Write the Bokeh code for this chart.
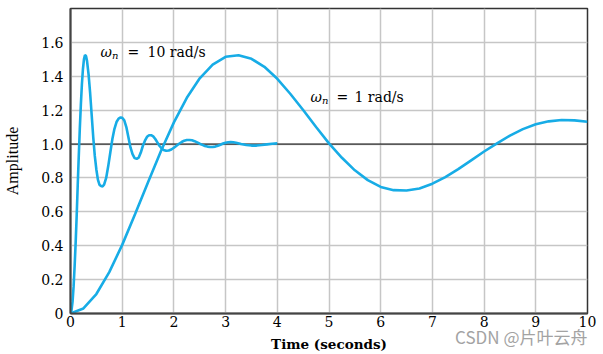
from bokeh.plotting import figure
from bokeh.models import Range1d, FixedTicker, Span, Label
from bokeh.core.properties import value
from bokeh.embed import file_html
from bokeh.resources import INLINE

# ---- data ----
# step response, omega_n = 1 rad/s
t_slow = [0, 0.25, 0.5, 0.75, 1, 1.25, 1.5, 1.75, 2, 2.25, 2.5, 2.75, 3, 3.25,
          3.5, 3.75, 4, 4.25, 4.5, 4.75, 5, 5.25, 5.5, 5.75, 6, 6.25, 6.5, 6.75,
          7, 7.25, 7.5, 7.75, 8, 8.25, 8.5, 8.75, 9, 9.25, 9.5, 9.75, 10]
y_slow = [0, 0.03, 0.115, 0.244, 0.405, 0.587, 0.775, 0.959, 1.128, 1.273, 1.388,
          1.469, 1.515, 1.524, 1.503, 1.456, 1.385, 1.297, 1.201, 1.101, 1.004,
          0.919, 0.845, 0.787, 0.747, 0.728, 0.726, 0.738, 0.766, 0.805, 0.852,
          0.904, 0.956, 1.004, 1.050, 1.088, 1.117, 1.134, 1.142, 1.140, 1.132]

# step response, omega_n = 10 rad/s
t_fast = [0, 0.02, 0.04, 0.06, 0.08, 0.10, 0.12, 0.14, 0.16, 0.18, 0.20, 0.22,
          0.24, 0.26, 0.28, 0.30, 0.32, 0.35, 0.38, 0.41, 0.44, 0.47, 0.50, 0.53,
          0.56, 0.59, 0.62, 0.65, 0.69, 0.73, 0.77, 0.81, 0.85, 0.89, 0.93, 0.97,
          1.00, 1.04, 1.08, 1.12, 1.16, 1.20, 1.24, 1.28, 1.32, 1.36, 1.40, 1.44,
          1.48, 1.52, 1.56, 1.60, 1.64, 1.68, 1.72, 1.76, 1.80, 1.85, 1.90, 1.95,
          2.00, 2.05, 2.10, 2.15, 2.20, 2.25, 2.30, 2.35, 2.40, 2.45, 2.50, 2.55,
          2.60, 2.65, 2.70, 2.75, 2.80, 2.85, 2.90, 2.95, 3.00, 3.05, 3.10, 3.15,
          3.20, 3.30, 3.40, 3.50, 3.60, 3.70, 3.80, 3.90, 4.00]
y_fast = [0, 0.02, 0.07, 0.16, 0.28, 0.42, 0.58, 0.76, 0.93, 1.09, 1.23, 1.35,
          1.44, 1.50, 1.525, 1.52, 1.49, 1.41, 1.30, 1.17, 1.04, 0.93, 0.85, 0.79,
          0.76, 0.752, 0.75, 0.76, 0.80, 0.87, 0.95, 1.03, 1.09, 1.13, 1.15, 1.157,
          1.155, 1.14, 1.10, 1.04, 0.98, 0.94, 0.917, 0.913, 0.92, 0.95, 0.99, 1.02,
          1.043, 1.052, 1.052, 1.045, 1.03, 1.01, 0.99, 0.975, 0.965, 0.96, 0.962, 0.968,
          0.978, 0.99, 1.002, 1.012, 1.02, 1.024, 1.024, 1.022, 1.017, 1.01, 1.002, 0.995,
          0.989, 0.985, 0.983, 0.983, 0.985, 0.99, 0.996, 1.003, 1.008, 1.011, 1.012, 1.011,
          1.008, 1.0, 0.994, 0.991, 0.991, 0.994, 0.998, 1.002, 1.004]

x_ticks = [0, 1, 2, 3, 4, 5, 6, 7, 8, 9, 10]
y_ticks = [0, 0.2, 0.4, 0.6, 0.8, 1.0, 1.2, 1.4, 1.6]
y_tick_labels = ["0", "0.2", "0.4", "0.6", "0.8", "1.0", "1.2", "1.4", "1.6"]
reference_level = 1.0
x_title = "Time (seconds)"
y_title = "Amplitude"
watermark = "CSDN @片叶云舟"

WIDE_SERIF = "DejaVu Serif"      # the scan is stretched horizontally
SERIF = "Liberation Serif"
BLUE = "#17ace6"

p = figure(width=603, height=354, output_backend="svg", toolbar_location=None,
           x_range=Range1d(0, 10), y_range=Range1d(0, 1.8),
           min_border_left=70, min_border_right=16, min_border_top=8,
           min_border_bottom=41)
p.background_fill_color = "white"
p.border_fill_color = "white"
p.outline_line_color = "#333333"
p.outline_line_width = 1.5

for ax in (p.xaxis[0], p.yaxis[0]):
    ax.major_tick_in = 0
    ax.major_tick_out = 0
    ax.minor_tick_in = 0
    ax.minor_tick_out = 0
    ax.axis_line_color = "#444444"
    ax.axis_line_width = 2
    ax.major_label_text_font = WIDE_SERIF
    ax.major_label_text_font_size = "14px"
    ax.major_label_text_color = "black"
    ax.axis_label_text_color = "black"

xa = p.xaxis[0]
xa.ticker = FixedTicker(ticks=x_ticks)
xa.major_label_standoff = 2
xa.axis_label = x_title
xa.axis_label_text_font = WIDE_SERIF
xa.axis_label_text_font_size = "13.5px"
xa.axis_label_text_font_style = "bold"
xa.axis_label_standoff = 6

ya = p.yaxis[0]
ya.ticker = FixedTicker(ticks=y_ticks)
ya.major_label_overrides = {v: s for v, s in zip(y_ticks, y_tick_labels)}
ya.major_label_standoff = 7
ya.axis_label = y_title
ya.axis_label_text_font = SERIF
ya.axis_label_text_font_size = "16px"
ya.axis_label_text_font_style = "normal"
ya.axis_label_standoff = 17

p.xgrid.ticker = FixedTicker(ticks=x_ticks)
p.ygrid.ticker = FixedTicker(ticks=y_ticks)
for g in (p.xgrid[0], p.ygrid[0]):
    g.grid_line_color = "#c6c6c6"
    g.grid_line_width = 1.5

p.add_layout(Span(location=reference_level, dimension="width", line_color="black",
                  line_width=1, level="underlay"))

p.line(t_slow, y_slow, line_color=BLUE, line_width=2.6)
p.line(t_fast, y_fast, line_color=BLUE, line_width=2.6)


def lab(text, x, y, size, style="normal", font=WIDE_SERIF):
    # x, y in screen pixels measured from the frame's bottom-left corner
    p.add_layout(Label(x=x, y=y, x_units="screen", y_units="screen", text=text,
                       text_font=font, text_font_size=size, text_font_style=style,
                       text_color="black", text_align="left",
                       text_baseline="alphabetic"))


# curve annotations
lab("ω", 30, 262, "14px", "italic")
lab("n", 41.5, 258.5, "10px", "italic")
lab("=", 57, 262, "14px")
lab("10 rad/s", 77, 262, "14px")

lab("ω", 240, 217, "14px", "italic")
lab("n", 251.5, 213.5, "10px", "italic")
lab("=", 266, 217, "14px")
lab("1 rad/s", 284, 217, "14px")

# watermark below the frame (overlay level so it is not clipped to the frame)
p.text(x=[10.0], y=[-0.136], text=[watermark], text_font=value("Noto Sans CJK SC"),
       text_font_size="17px", text_color="#a3a3a3", text_align="right",
       text_baseline="middle", level="overlay")

open("out.html", "w").write(file_html(p, INLINE))
